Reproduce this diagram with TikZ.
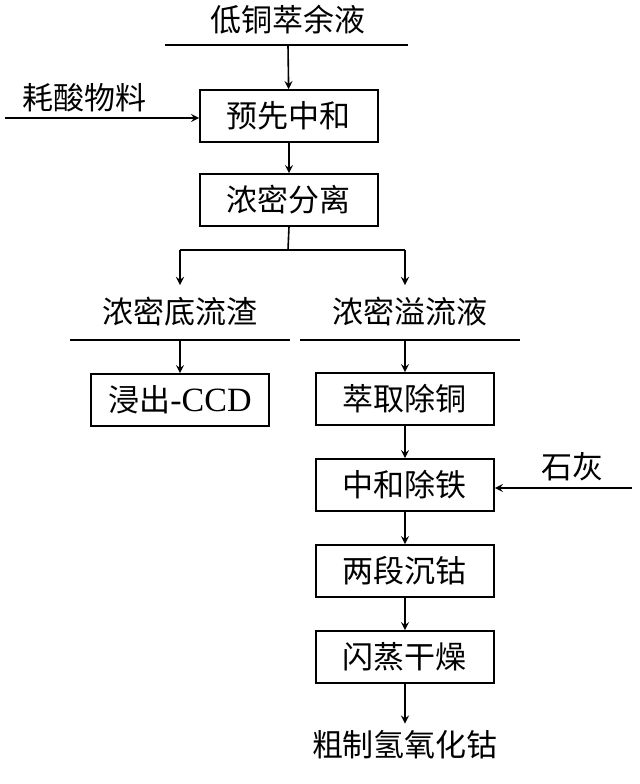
\documentclass[tikz,border=0pt]{standalone}
\usepackage{fontspec}
\setmainfont{Liberation Serif}
\newfontfamily\cjk{Noto Sans CJK SC}
\usetikzlibrary{positioning,arrows}
\tikzset{
  stepbox/.style={draw,thick,minimum width=89pt,minimum height=26pt,font=\fontsize{15.5}{15.5}\selectfont\cjk},
  label/.style={font=\fontsize{15.5}{15.5}\selectfont\cjk},
  flow/.style={thick,->,>=stealth}
}
\begin{document}
\begin{tikzpicture}[x=0.5pt,y=-0.5pt]
\useasboundingbox (0,0) rectangle (640,784);
% top feed
\node[label] (feed) at (288,20) {低铜萃余液};
\draw[thick] (165,45) -- (408,45);
\coordinate (feedline) at (288,45);
\node[stepbox] (neut) at (289,116) {预先中和};
\node[label] (acid) at (85,98) {耗酸物料};
\coordinate (acidin) at (5,118);
\node[stepbox] (thick) at (289,200) {浓密分离};
\draw[flow] (feedline) -- (neut);
\draw[flow] (acidin) -- (acidin -| neut.west);
\draw[flow] (neut) -- (thick);
% split
\coordinate (split) at (288,250);
\coordinate (sl) at (180,250);
\coordinate (sr) at (405,250);
\draw[thick] (thick.south) -- (split);
\draw[thick] (sl) -- (sr);
\node[label] (under) at (180,312) {浓密底流渣};
\node[label] (over) at (410,312) {浓密溢流液};
\draw[thick] (70,340) -- (290,340);
\draw[thick] (300,340) -- (520,340);
\draw[flow] (sl) -- (180,285);
\draw[flow] (sr) -- (405,285);
% left branch
\node[stepbox] (leach) at (180,400) {浸出{\fontsize{17}{17}\selectfont\rmfamily -CCD}};
\draw[flow] (180,340) -- (leach);
% right branch
\node[stepbox] (cu) at (405,399) {萃取除铜};
\node[stepbox] (fe) at (405,485) {中和除铁};
\node[stepbox] (co) at (405,571) {两段沉钴};
\node[stepbox] (dry) at (405,657) {闪蒸干燥};
\node[label] (prod) at (405,745) {粗制氢氧化钴};
\node[label] (lime) at (572,467) {石灰};
\coordinate (limein) at (632,488);
\draw[flow] (405,340) -- (cu);
\draw[flow] (cu) -- (fe);
\draw[flow] (fe) -- (co);
\draw[flow] (co) -- (dry);
\draw[flow] (dry) -- (prod);
\draw[flow] (limein) -- (limein -| fe.east);
\end{tikzpicture}
\end{document}
